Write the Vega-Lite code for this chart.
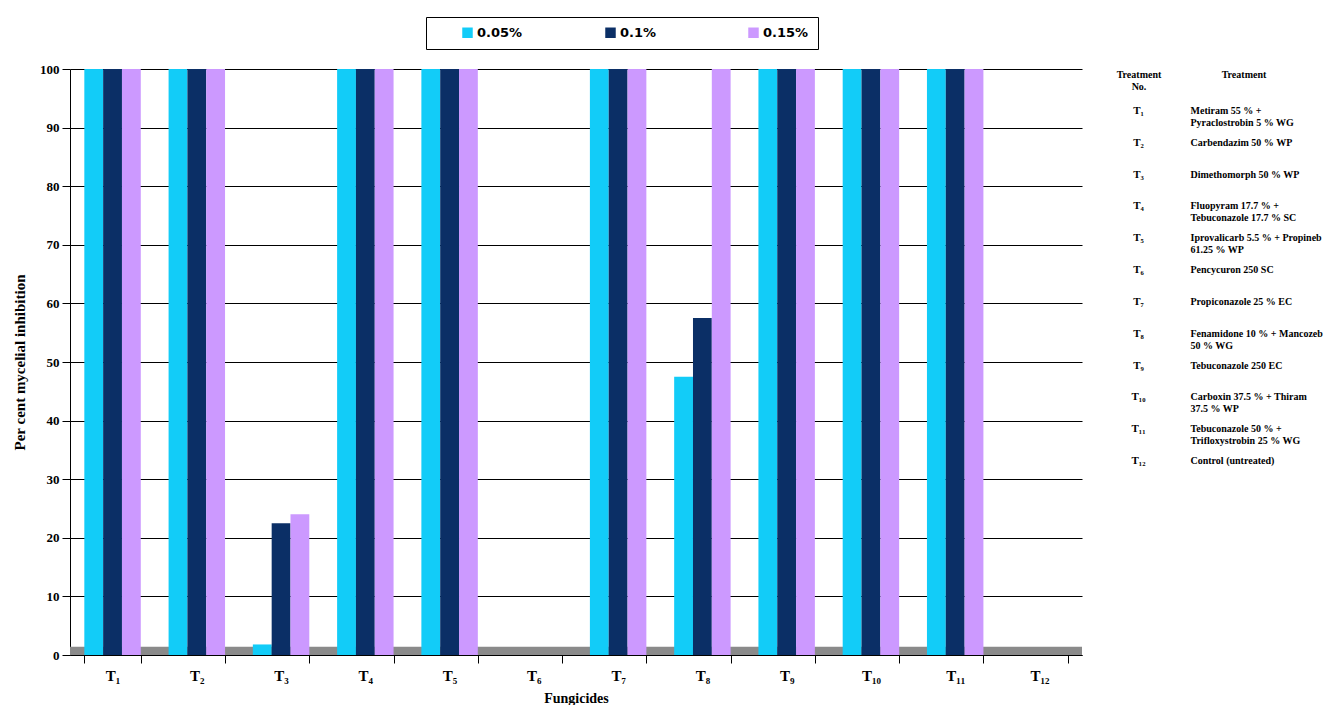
{
  "$schema": "https://vega.github.io/schema/vega-lite/v6.json",
  "background": "white",
  "padding": {"left": 12, "top": 16, "right": 0, "bottom": 0},
  "bounds": "flush",
  "spacing": 4,
  "config": {
    "view": {"stroke": null},
    "font": "Liberation Serif",
    "axis": {"labelColor": "black", "titleColor": "black", "domainColor": "black", "tickColor": "black"}
  },
  "hconcat": [
    {
      "width": 1012,
      "height": 586,
      "layer": [
        {
          "data": {"values": [{"floor": "floor"}]},
          "mark": {"type": "rect", "color": "#8a8a8a"},
          "encoding": {
            "y": {"datum": 0, "type": "quantitative"},
            "y2": {"datum": 1.4}
          }
        },
        {
          "data": {
            "values": [
              {"trt": "T₁", "conc": "0.05%", "value": 100},
              {"trt": "T₁", "conc": "0.1%", "value": 100},
              {"trt": "T₁", "conc": "0.15%", "value": 100},
              {"trt": "T₂", "conc": "0.05%", "value": 100},
              {"trt": "T₂", "conc": "0.1%", "value": 100},
              {"trt": "T₂", "conc": "0.15%", "value": 100},
              {"trt": "T₃", "conc": "0.05%", "value": 1.8},
              {"trt": "T₃", "conc": "0.1%", "value": 22.5},
              {"trt": "T₃", "conc": "0.15%", "value": 24},
              {"trt": "T₄", "conc": "0.05%", "value": 100},
              {"trt": "T₄", "conc": "0.1%", "value": 100},
              {"trt": "T₄", "conc": "0.15%", "value": 100},
              {"trt": "T₅", "conc": "0.05%", "value": 100},
              {"trt": "T₅", "conc": "0.1%", "value": 100},
              {"trt": "T₅", "conc": "0.15%", "value": 100},
              {"trt": "T₆", "conc": "0.05%", "value": 0},
              {"trt": "T₆", "conc": "0.1%", "value": 0},
              {"trt": "T₆", "conc": "0.15%", "value": 0},
              {"trt": "T₇", "conc": "0.05%", "value": 100},
              {"trt": "T₇", "conc": "0.1%", "value": 100},
              {"trt": "T₇", "conc": "0.15%", "value": 100},
              {"trt": "T₈", "conc": "0.05%", "value": 47.5},
              {"trt": "T₈", "conc": "0.1%", "value": 57.5},
              {"trt": "T₈", "conc": "0.15%", "value": 100},
              {"trt": "T₉", "conc": "0.05%", "value": 100},
              {"trt": "T₉", "conc": "0.1%", "value": 100},
              {"trt": "T₉", "conc": "0.15%", "value": 100},
              {"trt": "T₁₀", "conc": "0.05%", "value": 100},
              {"trt": "T₁₀", "conc": "0.1%", "value": 100},
              {"trt": "T₁₀", "conc": "0.15%", "value": 100},
              {"trt": "T₁₁", "conc": "0.05%", "value": 100},
              {"trt": "T₁₁", "conc": "0.1%", "value": 100},
              {"trt": "T₁₁", "conc": "0.15%", "value": 100},
              {"trt": "T₁₂", "conc": "0.05%", "value": 0},
              {"trt": "T₁₂", "conc": "0.1%", "value": 0},
              {"trt": "T₁₂", "conc": "0.15%", "value": 0}
            ]
          },
          "mark": {"type": "bar"},
          "encoding": {
            "x": {
              "field": "trt",
              "type": "nominal",
              "sort": null,
              "scale": {"paddingInner": 0.33, "paddingOuter": 0.17},
              "axis": {
                "title": "Fungicides",
                "labelAngle": 0,
                "tickBand": "extent",
                "tickSize": 8,
                "labelPadding": 5,
                "labelFont": "Liberation Serif",
                "labelFontWeight": "bold",
                "labelFontSize": 15,
                "titleFont": "Liberation Serif",
                "titleFontWeight": "bold",
                "titleFontSize": 14,
                "titlePadding": 8
              }
            },
            "xOffset": {
              "field": "conc",
              "type": "nominal",
              "sort": ["0.05%", "0.1%", "0.15%"],
              "scale": {"paddingInner": 0, "paddingOuter": 0}
            },
            "y": {
              "field": "value",
              "type": "quantitative",
              "scale": {"domain": [0, 100]},
              "axis": {
                "title": "Per cent mycelial inhibition",
                "values": [0, 10, 20, 30, 40, 50, 60, 70, 80, 90, 100],
                "grid": true,
                "gridColor": "black",
                "gridWidth": 1,
                "tickSize": 8,
                "labelPadding": 3,
                "labelFont": "Liberation Serif",
                "labelFontWeight": "bold",
                "labelFontSize": 13,
                "titleFont": "Liberation Serif",
                "titleFontWeight": "bold",
                "titleFontSize": 15,
                "titlePadding": 12
              }
            },
            "color": {
              "field": "conc",
              "type": "nominal",
              "sort": ["0.05%", "0.1%", "0.15%"],
              "scale": {"domain": ["0.05%", "0.1%", "0.15%"], "range": ["#12CCF8", "#0B2F66", "#CC99FF"]},
              "legend": {
                "title": null,
                "orient": "none",
                "legendX": 356,
                "legendY": -52,
                "direction": "horizontal",
                "strokeColor": "black",
                "fillColor": "white",
                "padding": 9,
                "gridAlign": "all",
                "columnPadding": 55,
                "symbolType": "square",
                "symbolSize": 110,
                "symbolStrokeWidth": 0,
                "symbolOffset": 26,
                "labelOffset": 3,
                "labelFont": "DejaVu Sans",
                "labelFontWeight": "bold",
                "labelFontSize": 13,
                "labelColor": "black"
              }
            }
          }
        }
      ]
    },
    {
      "width": 210,
      "height": 586,
      "data": {
        "values": [
          {"no": "T₁", "name": "Metiram 55 % +\nPyraclostrobin 5 % WG"},
          {"no": "T₂", "name": "Carbendazim 50 % WP"},
          {"no": "T₃", "name": "Dimethomorph 50 % WP"},
          {"no": "T₄", "name": "Fluopyram 17.7 % +\nTebuconazole 17.7 % SC"},
          {"no": "T₅", "name": "Iprovalicarb 5.5 % + Propineb\n61.25 % WP"},
          {"no": "T₆", "name": "Pencycuron 250 SC"},
          {"no": "T₇", "name": "Propiconazole 25 % EC"},
          {"no": "T₈", "name": "Fenamidone 10 % + Mancozeb\n50 % WG"},
          {"no": "T₉", "name": "Tebuconazole 250 EC"},
          {"no": "T₁₀", "name": "Carboxin 37.5 % + Thiram\n37.5 % WP"},
          {"no": "T₁₁", "name": "Tebuconazole 50 % +\nTrifloxystrobin 25 % WG"},
          {"no": "T₁₂", "name": "Control (untreated)"}
        ]
      },
      "transform": [
        {"fold": ["no", "name"], "as": ["col", "txt"]}
      ],
      "layer": [
        {
          "transform": [{"filter": "datum.col === 'no'"}],
          "mark": {"type": "text", "align": "center", "baseline": "middle", "font": "Liberation Serif", "fontWeight": "bold", "fontSize": 11, "color": "black"},
          "encoding": {
            "x": {
              "field": "col",
              "type": "nominal",
              "sort": ["no", "name"],
              "scale": {"domain": ["no", "name"], "paddingInner": 0, "paddingOuter": 0},
              "axis": {
                "orient": "top",
                "title": null,
                "domain": false,
                "ticks": false,
                "tickSize": 0,
                "labelPadding": -5,
                "labelBaseline": "middle",
                "labelAngle": 0,
                "labelFont": "Liberation Serif",
                "labelFontWeight": "bold",
                "labelFontSize": 10,
                "labelExpr": "datum.value === 'no' ? ['Treatment', 'No.'] : 'Treatment'"
              }
            },
            "y": {
              "field": "no",
              "type": "nominal",
              "sort": null,
              "scale": {"range": [42, 392], "padding": 0},
              "axis": null
            },
            "text": {"field": "txt"}
          }
        },
        {
          "transform": [{"filter": "datum.col === 'name'"}],
          "mark": {"type": "text", "align": "left", "baseline": "middle", "dx": -53, "lineBreak": "\n", "font": "Liberation Serif", "fontWeight": "bold", "fontSize": 10, "color": "black", "lineHeight": 12},
          "encoding": {
            "x": {"field": "col", "type": "nominal", "sort": ["no", "name"]},
            "y": {"field": "no", "type": "nominal", "sort": null, "scale": {"range": [42, 392], "padding": 0}},
            "text": {"field": "txt"}
          }
        }
      ]
    }
  ]
}
